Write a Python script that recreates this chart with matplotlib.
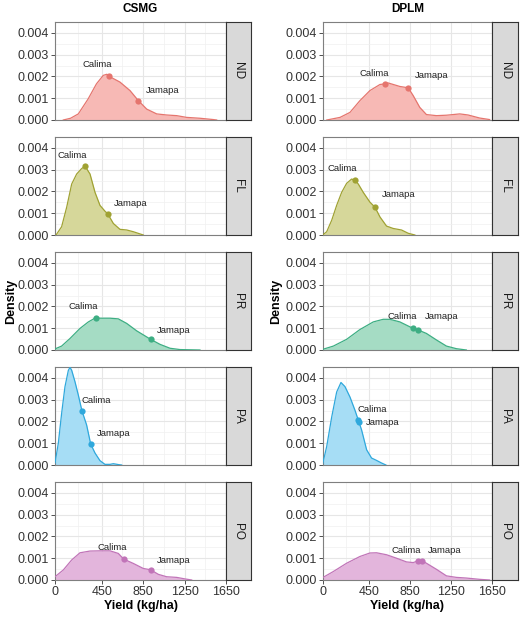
import numpy as np
import matplotlib
matplotlib.use('Agg')
import matplotlib.pyplot as plt

plt.rcParams['font.family'] = ['Liberation Sans', 'DejaVu Sans']

sites = ['CSMG', 'DPLM']
envs = ['ND', 'FL', 'PR', 'PA', 'PO']

# density curves (yield kg/ha, density)
csmg_nd_x = [80, 150, 225, 320, 400, 466, 500, 525, 627, 724, 804, 885, 981, 1077, 1174, 1270, 1399, 1528, 1560]
csmg_nd_y = [0, 0.00008, 0.00028, 0.00097, 0.00166, 0.00205, 0.0021, 0.002, 0.00174, 0.00135, 0.00089,
             0.0005, 0.00028, 0.00023, 0.0002, 0.00012, 0.00008, 0.00002, 0]
csmg_fl_x = [10, 64, 113, 161, 209, 257, 290, 338, 386, 434, 483, 508, 563, 627, 692, 756, 820, 852]
csmg_fl_y = [0, 0.00038, 0.00128, 0.00234, 0.0028, 0.00305, 0.00316, 0.0028, 0.00196, 0.00136, 0.00109,
             0.00098, 0.00053, 0.00026, 0.00023, 0.00015, 0.00005, 0]
csmg_pr_x = [0, 64, 145, 241, 322, 392, 434, 531, 611, 692, 788, 923, 1013, 1110, 1206, 1399]
csmg_pr_y = [0.00005, 0.00018, 0.00053, 0.00099, 0.00129, 0.00148, 0.00146, 0.00146, 0.00143, 0.00122,
             0.00088, 0.00049, 0.00026, 0.00008, 0.00002, 0]
csmg_pa_x = [0, 32, 64, 96, 129, 145, 161, 193, 225, 260, 305, 344, 386, 434, 482, 531, 563, 611, 643]
csmg_pa_y = [0.00009, 0.001, 0.00237, 0.00359, 0.00435, 0.00448, 0.00435, 0.00382, 0.00321, 0.00249,
             0.00184, 0.00097, 0.00055, 0.0002, 0.00003, 0.00003, 0.00006, 0.00002, 0]
csmg_po_x = [0, 80, 161, 241, 338, 434, 531, 611, 663, 756, 852, 923, 997, 1077, 1174, 1254, 1319]
csmg_po_y = [0.00015, 0.00046, 0.00092, 0.00125, 0.00133, 0.00134, 0.00134, 0.00122, 0.00096, 0.00076,
             0.00053, 0.00047, 0.00026, 0.00015, 0.00012, 0.00005, 0]

dplm_nd_x = [40, 169, 266, 363, 460, 558, 606, 639, 752, 833, 882, 946, 1011, 1109, 1206, 1336, 1417, 1530, 1627]
dplm_nd_y = [0, 0.00012, 0.00035, 0.00089, 0.00135, 0.00163, 0.00166, 0.0017, 0.00154, 0.00148, 0.00112,
             0.00058, 0.00025, 0.0002, 0.00022, 0.00028, 0.00023, 0.00009, 0.00002]
dplm_fl_x = [0, 39, 88, 136, 185, 233, 282, 311, 347, 395, 460, 509, 558, 622, 687, 768, 833, 898]
dplm_fl_y = [0, 0.00015, 0.00068, 0.00136, 0.00196, 0.00237, 0.00257, 0.00252, 0.00234, 0.00196, 0.00151,
             0.00128, 0.00083, 0.00041, 0.0003, 0.00023, 0.00008, 0]
dplm_pr_x = [0, 104, 233, 363, 493, 590, 655, 752, 882, 930, 1011, 1109, 1206, 1303, 1400]
dplm_pr_y = [0.00003, 0.00018, 0.00049, 0.00094, 0.00129, 0.00141, 0.00141, 0.00129, 0.00099, 0.00092,
             0.00076, 0.00046, 0.00018, 0.00006, 0]
dplm_pa_x = [0, 39, 88, 136, 178, 217, 266, 314, 347, 379, 428, 476, 525, 574, 616]
dplm_pa_y = [0.00006, 0.00085, 0.00221, 0.00335, 0.00379, 0.0036, 0.00312, 0.00252, 0.00206, 0.00161,
             0.0007, 0.00032, 0.00021, 0.00009, 0]
dplm_po_x = [0, 104, 233, 363, 460, 525, 622, 720, 817, 882, 930, 969, 1011, 1109, 1206, 1303, 1400, 1530, 1627]
dplm_po_y = [0.00011, 0.00039, 0.00077, 0.00108, 0.00124, 0.00125, 0.00116, 0.001, 0.00083, 0.0008,
             0.00088, 0.00088, 0.00077, 0.00049, 0.00019, 0.00012, 0.00009, 0.00003, 0]

# check yields (kg/ha) per environment
calima_csmg = [525, 290, 392, 260, 663]
jamapa_csmg = [804, 508, 923, 344, 923]
calima_dplm = [606, 311, 882, 347, 930]
jamapa_dplm = [833, 509, 930, 352, 969]

x_ticks = [0, 450, 850, 1250, 1650]
y_ticks = [0.000, 0.001, 0.002, 0.003, 0.004]

curves = {
    'CSMG': [(csmg_nd_x, csmg_nd_y), (csmg_fl_x, csmg_fl_y), (csmg_pr_x, csmg_pr_y),
             (csmg_pa_x, csmg_pa_y), (csmg_po_x, csmg_po_y)],
    'DPLM': [(dplm_nd_x, dplm_nd_y), (dplm_fl_x, dplm_fl_y), (dplm_pr_x, dplm_pr_y),
             (dplm_pa_x, dplm_pa_y), (dplm_po_x, dplm_po_y)],
}
checks = {'CSMG': (calima_csmg, jamapa_csmg), 'DPLM': (calima_dplm, jamapa_dplm)}

# label placement (data coords of text centres)
label_pos = {
    'CSMG': [((410, 0.00255), (1036, 0.00135)), ((170, 0.00365), (733, 0.00143)),
             ((273, 0.00200), (1142, 0.00091)), ((402, 0.00294), (569, 0.00143)),
             ((550, 0.00151), (1148, 0.00090))],
    'DPLM': [((499, 0.00215), (1060, 0.00205)), ((194, 0.00305), (736, 0.00186)),
             ((775, 0.00155), (1157, 0.00155)), ((486, 0.00255), (583, 0.00197)),
             ((817, 0.00134), (1190, 0.00134))],
}

line_cols = ['#E5756E', '#A0A233', '#3DAE83', '#2FA8DC', '#C174B8']
fill_cols = ['#F7B9B5', '#D6D79A', '#A5DCC4', '#A6DDF5', '#E3B5DC']

W, H = 520, 617
fig = plt.figure(figsize=(W / 100, H / 100), dpi=100)

col_left = [55, 322.7]
col_w = [171, 169.3]
strip_w = [25, 26]
row_top = [22, 137, 252, 367, 482]
row_h = 98

for c, site in enumerate(sites):
    for r, env in enumerate(envs):
        ax = fig.add_axes([col_left[c] / W, 1 - (row_top[r] + row_h) / H, col_w[c] / W, row_h / H])
        xs, ys = curves[site][r]
        ax.fill_between(xs, ys, 0, color=fill_cols[r], lw=0, zorder=2)
        ax.plot(xs, ys, color=line_cols[r], lw=0.9, zorder=3)
        cal, jam = checks[site]
        for yld, name, pos in zip([cal[r], jam[r]], ['Calima', 'Jamapa'], label_pos[site][r]):
            ax.plot(yld, np.interp(yld, xs, ys), 'o', color=line_cols[r], ms=4.5, mec='none', zorder=4)
            ax.text(pos[0], pos[1], name, fontsize=6.8, color='#222222', ha='center', va='center', zorder=5)
        ax.set_xlim(0, 1650)
        ax.set_ylim(0, 0.0045)
        ax.set_xticks(x_ticks)
        ax.set_xticks([225, 650, 1050, 1450], minor=True)
        ax.set_yticks(y_ticks)
        ax.set_yticks([0.0005, 0.0015, 0.0025, 0.0035], minor=True)
        ax.set_yticklabels(['%.3f' % v for v in y_ticks])
        ax.grid(True, which='major', color='#E6E6E6', lw=0.8, zorder=0)
        ax.grid(True, which='minor', color='#F0F0F0', lw=0.5, zorder=0)
        ax.set_axisbelow(True)
        ax.tick_params(axis='both', which='major', labelsize=9, length=3, width=0.6,
                       color='#333333', labelcolor='#333333', pad=1.5)
        ax.tick_params(which='minor', length=0)
        if r < 4:
            ax.set_xticklabels([])
            ax.tick_params(axis='x', which='major', length=0)
        else:
            ax.set_xlabel('Yield (kg/ha)', fontsize=9, fontweight='bold', labelpad=1)
        for sp in ax.spines.values():
            sp.set_color('#7F7F7F')
            sp.set_linewidth(0.8)

        # facet strip
        st = fig.add_axes([(col_left[c] + col_w[c]) / W, 1 - (row_top[r] + row_h) / H,
                           strip_w[c] / W, row_h / H])
        st.set_facecolor('#D9D9D9')
        st.set_xticks([])
        st.set_yticks([])
        for sp in st.spines.values():
            sp.set_color('#333333')
            sp.set_linewidth(0.8)
        st.text(0.5, 0.5, env, rotation=270, ha='center', va='center', fontsize=8.5,
                color='#1A1A1A', transform=st.transAxes)

    fig.text((col_left[c] + col_w[c] / 2) / W, 1 - 9 / H, site, ha='center', va='center',
             fontsize=8.5, fontweight='bold')
    fig.text([11, 276][c] / W, 1 - 301 / H, 'Density', rotation=90, ha='center', va='center',
             fontsize=9, fontweight='bold')

fig.savefig('out.png', dpi=100)
